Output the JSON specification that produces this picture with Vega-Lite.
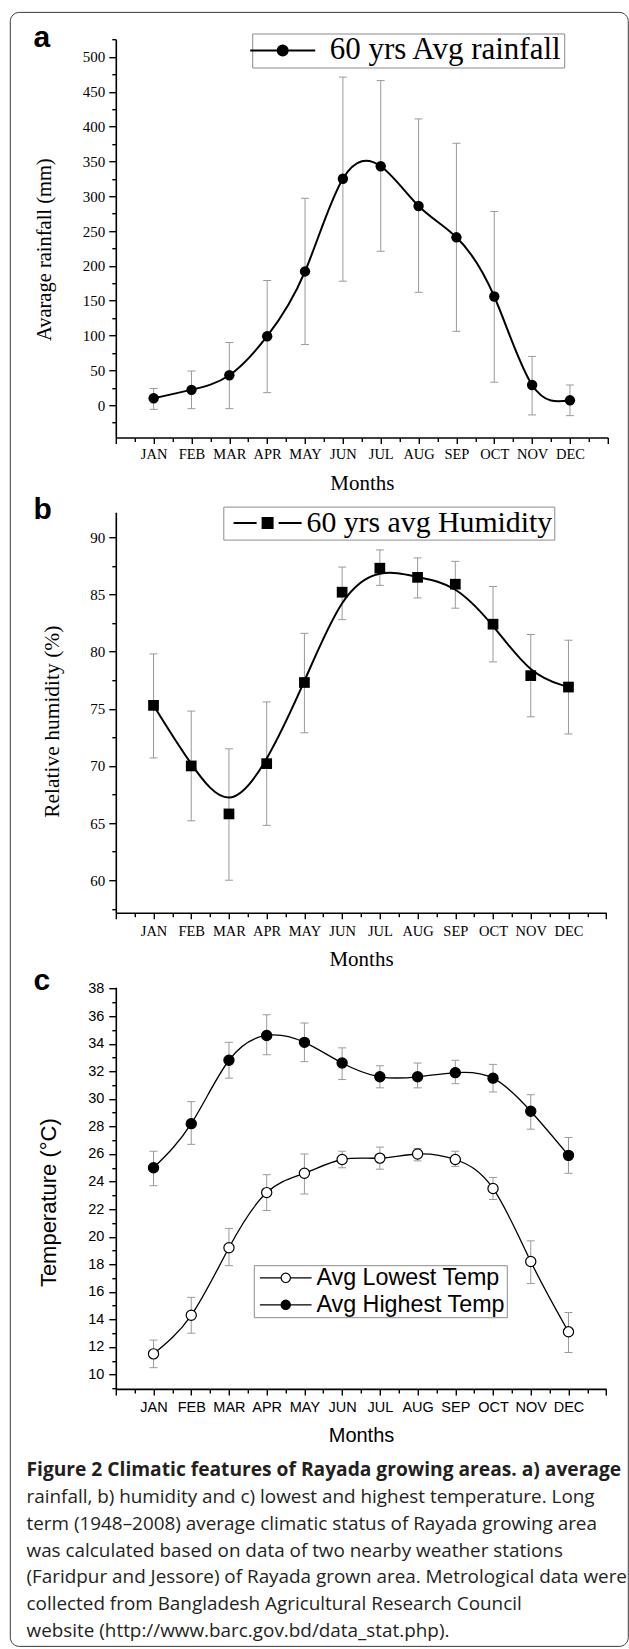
{
  "$schema": "https://vega.github.io/schema/vega-lite/v6.json",
  "background": "white",
  "padding": {"left": 8.8, "top": 11.2, "right": 0, "bottom": 0},
  "bounds": "flush",
  "spacing": 74,
  "resolve": {
    "scale": {"color": "independent", "fill": "independent", "stroke": "independent"},
    "legend": {"color": "independent", "fill": "independent", "stroke": "independent"}
  },
  "datasets": {
    "rain": [
      {"month": "JAN", "m": 1, "v": 10, "lo": -6, "hi": 24, "series": "60 yrs Avg rainfall"},
      {"month": "FEB", "m": 2, "v": 22, "lo": -5, "hi": 49, "series": "60 yrs Avg rainfall"},
      {"month": "MAR", "m": 3, "v": 43, "lo": -5, "hi": 90, "series": "60 yrs Avg rainfall"},
      {"month": "APR", "m": 4, "v": 99, "lo": 18, "hi": 179, "series": "60 yrs Avg rainfall"},
      {"month": "MAY", "m": 5, "v": 192, "lo": 87, "hi": 297, "series": "60 yrs Avg rainfall"},
      {"month": "JUN", "m": 6, "v": 325, "lo": 178, "hi": 471, "series": "60 yrs Avg rainfall"},
      {"month": "JUL", "m": 7, "v": 343, "lo": 221, "hi": 466, "series": "60 yrs Avg rainfall"},
      {"month": "AUG", "m": 8, "v": 286, "lo": 162, "hi": 411, "series": "60 yrs Avg rainfall"},
      {"month": "SEP", "m": 9, "v": 241, "lo": 106, "hi": 376, "series": "60 yrs Avg rainfall"},
      {"month": "OCT", "m": 10, "v": 156, "lo": 33, "hi": 278, "series": "60 yrs Avg rainfall"},
      {"month": "NOV", "m": 11, "v": 29, "lo": -14, "hi": 70, "series": "60 yrs Avg rainfall"},
      {"month": "DEC", "m": 12, "v": 7, "lo": -15, "hi": 29, "series": "60 yrs Avg rainfall"}
    ],
    "hum": [
      {"month": "JAN", "m": 1, "v": 75.3, "lo": 70.7, "hi": 79.8, "series": "60 yrs avg Humidity"},
      {"month": "FEB", "m": 2, "v": 70.0, "lo": 65.2, "hi": 74.8, "series": "60 yrs avg Humidity"},
      {"month": "MAR", "m": 3, "v": 65.8, "lo": 60.0, "hi": 71.5, "series": "60 yrs avg Humidity"},
      {"month": "APR", "m": 4, "v": 70.2, "lo": 64.8, "hi": 75.6, "series": "60 yrs avg Humidity"},
      {"month": "MAY", "m": 5, "v": 77.3, "lo": 72.9, "hi": 81.6, "series": "60 yrs avg Humidity"},
      {"month": "JUN", "m": 6, "v": 85.2, "lo": 82.8, "hi": 87.4, "series": "60 yrs avg Humidity"},
      {"month": "JUL", "m": 7, "v": 87.3, "lo": 85.8, "hi": 88.9, "series": "60 yrs avg Humidity"},
      {"month": "AUG", "m": 8, "v": 86.5, "lo": 84.7, "hi": 88.2, "series": "60 yrs avg Humidity"},
      {"month": "SEP", "m": 9, "v": 85.9, "lo": 83.8, "hi": 87.9, "series": "60 yrs avg Humidity"},
      {"month": "OCT", "m": 10, "v": 82.4, "lo": 79.1, "hi": 85.7, "series": "60 yrs avg Humidity"},
      {"month": "NOV", "m": 11, "v": 77.9, "lo": 74.3, "hi": 81.5, "series": "60 yrs avg Humidity"},
      {"month": "DEC", "m": 12, "v": 76.9, "lo": 72.8, "hi": 81.0, "series": "60 yrs avg Humidity"}
    ],
    "temp": [
      {"month": "JAN", "m": 1, "series": "Avg Highest Temp", "v": 25.0, "lo": 23.7, "hi": 26.2},
      {"month": "FEB", "m": 2, "series": "Avg Highest Temp", "v": 28.2, "lo": 26.7, "hi": 29.8},
      {"month": "MAR", "m": 3, "series": "Avg Highest Temp", "v": 32.8, "lo": 31.5, "hi": 34.1},
      {"month": "APR", "m": 4, "series": "Avg Highest Temp", "v": 34.6, "lo": 33.2, "hi": 36.1},
      {"month": "MAY", "m": 5, "series": "Avg Highest Temp", "v": 34.1, "lo": 32.7, "hi": 35.5},
      {"month": "JUN", "m": 6, "series": "Avg Highest Temp", "v": 32.6, "lo": 31.4, "hi": 33.7},
      {"month": "JUL", "m": 7, "series": "Avg Highest Temp", "v": 31.6, "lo": 30.8, "hi": 32.4},
      {"month": "AUG", "m": 8, "series": "Avg Highest Temp", "v": 31.6, "lo": 30.8, "hi": 32.6},
      {"month": "SEP", "m": 9, "series": "Avg Highest Temp", "v": 31.9, "lo": 31.1, "hi": 32.8},
      {"month": "OCT", "m": 10, "series": "Avg Highest Temp", "v": 31.5, "lo": 30.5, "hi": 32.5},
      {"month": "NOV", "m": 11, "series": "Avg Highest Temp", "v": 29.1, "lo": 27.8, "hi": 30.3},
      {"month": "DEC", "m": 12, "series": "Avg Highest Temp", "v": 25.9, "lo": 24.6, "hi": 27.2},
      {"month": "JAN", "m": 1, "series": "Avg Lowest Temp", "v": 11.5, "lo": 10.5, "hi": 12.5},
      {"month": "FEB", "m": 2, "series": "Avg Lowest Temp", "v": 14.3, "lo": 13.0, "hi": 15.6},
      {"month": "MAR", "m": 3, "series": "Avg Lowest Temp", "v": 19.2, "lo": 17.9, "hi": 20.6},
      {"month": "APR", "m": 4, "series": "Avg Lowest Temp", "v": 23.2, "lo": 21.9, "hi": 24.5},
      {"month": "MAY", "m": 5, "series": "Avg Lowest Temp", "v": 24.6, "lo": 23.1, "hi": 26.0},
      {"month": "JUN", "m": 6, "series": "Avg Lowest Temp", "v": 25.6, "lo": 25.0, "hi": 26.2},
      {"month": "JUL", "m": 7, "series": "Avg Lowest Temp", "v": 25.7, "lo": 24.9, "hi": 26.5},
      {"month": "AUG", "m": 8, "series": "Avg Lowest Temp", "v": 26.0, "lo": 25.5, "hi": 26.4},
      {"month": "SEP", "m": 9, "series": "Avg Lowest Temp", "v": 25.6, "lo": 25.1, "hi": 26.2},
      {"month": "OCT", "m": 10, "series": "Avg Lowest Temp", "v": 23.5, "lo": 22.7, "hi": 24.3},
      {"month": "NOV", "m": 11, "series": "Avg Lowest Temp", "v": 18.2, "lo": 16.6, "hi": 19.7},
      {"month": "DEC", "m": 12, "series": "Avg Lowest Temp", "v": 13.1, "lo": 11.6, "hi": 14.5}
    ]
  },
  "title": {
    "text": "Figure 2 Climatic features of Rayada growing areas. a) average",
    "subtitle": [
      "rainfall, b) humidity and c) lowest and highest temperature. Long",
      "term (1948–2008) average climatic status of Rayada growing area",
      "was calculated based on data of two nearby weather stations",
      "(Faridpur and Jessore) of Rayada grown area. Metrological data were",
      "collected from Bangladesh Agricultural Research Council",
      "website (http://www.barc.gov.bd/data_stat.php)."
    ],
    "orient": "bottom",
    "anchor": "start",
    "frame": "group",
    "dx": -89.3,
    "offset": -184.9,
    "baseline": "top",
    "font": "Open Sans",
    "fontSize": 19.2,
    "fontWeight": "bold",
    "color": "#231f20",
    "lineHeight": 26.7,
    "subtitleFont": "Open Sans",
    "subtitleFontSize": 18.9,
    "subtitleFontWeight": "normal",
    "subtitleColor": "#231f20",
    "subtitleLineHeight": 26.7,
    "subtitlePadding": 7.5
  },
  "vconcat": [
    {
      "width": 492,
      "height": 398.3,
      "title": {"text": "a", "orient": "top", "anchor": "start", "frame": "group", "dx": -82.3, "offset": -65.8, "baseline": "alphabetic", "font": "Liberation Sans", "fontSize": 30, "fontWeight": "bold", "color": "black"},
      "data": {"name": "rain"},
      "encoding": {
        "x": {
          "field": "m", "type": "quantitative",
          "scale": {"domain": [0, 13], "nice": false, "zero": false},
          "axis": {
            "values": [0,0.5,1,1.5,2,2.5,3,3.5,4,4.5,5,5.5,6,6.5,7,7.5,8,8.5,9,9.5,10,10.5,11,11.5,12,12.5,13],
            "labelExpr": "datum.value >= 1 && datum.value <= 12 && datum.value % 1 === 0 ? ['JAN','FEB','MAR','APR','MAY','JUN','JUL','AUG','SEP','OCT','NOV','DEC'][datum.value - 1] : ''",
            "tickSize": {"condition": {"test": "datum.value % 1 === 0", "value": 6}, "value": 4},
            "labelFont": "Liberation Serif", "labelFontSize": 14.5, "labelPadding": 4,
            "title": "Months", "titleFont": "Liberation Serif", "titleFontSize": 21, "titlePadding": 12
          }
        },
        "y": {
          "field": "v", "type": "quantitative",
          "scale": {"domain": [-46.4, 525.4], "nice": false, "zero": false},
          "title": "Avarage rainfall (mm)",
          "axis": {
            "values": [-25,0,25,50,75,100,125,150,175,200,225,250,275,300,325,350,375,400,425,450,475,500,525],
            "labelExpr": "datum.value % 50 === 0 ? datum.label : ''",
            "tickSize": {"condition": {"test": "datum.value % 50 === 0", "value": 7}, "value": 4},
            "labelFont": "Liberation Serif", "labelFontSize": 15, "labelPadding": 4,
            "titleFont": "Liberation Serif", "titleFontSize": 20.5, "titlePadding": 28, "titleY": 210
          }
        }
      },
      "layer": [
        {
          "mark": {"type": "rule", "color": "#9a9a9a", "strokeWidth": 1},
          "encoding": {
            "y": {"field": "lo", "type": "quantitative", "scale": {"domain": [-46.4, 525.4], "nice": false, "zero": false}, "title": "Avarage rainfall (mm)"},
            "y2": {"field": "hi"}
          }
        },
        {
          "mark": {"type": "tick", "orient": "horizontal", "size": 8, "thickness": 1, "color": "#9a9a9a", "opacity": 1},
          "encoding": {"y": {"field": "lo", "type": "quantitative", "scale": {"domain": [-46.4, 525.4], "nice": false, "zero": false}, "title": "Avarage rainfall (mm)"}}
        },
        {
          "mark": {"type": "tick", "orient": "horizontal", "size": 8, "thickness": 1, "color": "#9a9a9a", "opacity": 1},
          "encoding": {"y": {"field": "hi", "type": "quantitative", "scale": {"domain": [-46.4, 525.4], "nice": false, "zero": false}, "title": "Avarage rainfall (mm)"}}
        },
        {
          "mark": {"type": "line", "interpolate": "natural", "color": "black", "strokeWidth": 2}
        },
        {
          "mark": {"type": "point", "filled": true, "size": 108, "opacity": 1},
          "encoding": {
            "color": {
              "field": "series", "type": "nominal",
              "scale": {"range": ["black"]},
              "legend": {
                "orient": "none", "legendX": 136.4, "legendY": -5.7, "direction": "vertical", "title": null,
                "symbolType": "M-6.5,0H6.5M1,0A1,1,0,1,1,-1,0A1,1,0,1,1,1,0Z",
                "symbolSize": 100, "symbolStrokeColor": "black", "symbolFillColor": "black", "symbolStrokeWidth": 2,
                "symbolOffset": 13.5, "labelOffset": 31.5, "padding": 1.5,
                "labelFont": "Liberation Serif", "labelFontSize": 31, "labelColor": "black", "labelLimit": 500,
                "strokeColor": "#8c8c8c", "fillColor": "white"
              }
            }
          }
        },
        {
          "mark": {"type": "point", "opacity": 0, "size": 1},
          "encoding": {
            "stroke": {
              "field": "m", "type": "quantitative",
              "scale": {"range": ["rgba(0,0,0,0)", "rgba(0,0,0,0)"]},
              "legend": {
                "orient": "none", "legendX": -106, "legendY": -27.3, "direction": "vertical", "title": null,
                "gradientLength": 1633.3, "gradientThickness": 617.5, "gradientStrokeWidth": 0,
                "labelExpr": "''", "labelFontSize": 1, "labelOffset": 0, "padding": 0,
                "strokeColor": "#3a3a3a", "cornerRadius": 9
              }
            }
          }
        }
      ]
    },
    {
      "width": 490.4,
      "height": 400.6,
      "title": {"text": "b", "orient": "top", "anchor": "start", "frame": "group", "dx": -82.3, "offset": -43.2, "baseline": "alphabetic", "font": "Liberation Sans", "fontSize": 30, "fontWeight": "bold", "color": "black"},
      "data": {"name": "hum"},
      "encoding": {
        "x": {
          "field": "m", "type": "quantitative",
          "scale": {"domain": [0, 13], "nice": false, "zero": false},
          "axis": {
            "values": [0,0.5,1,1.5,2,2.5,3,3.5,4,4.5,5,5.5,6,6.5,7,7.5,8,8.5,9,9.5,10,10.5,11,11.5,12,12.5,13],
            "labelExpr": "datum.value >= 1 && datum.value <= 12 && datum.value % 1 === 0 ? ['JAN','FEB','MAR','APR','MAY','JUN','JUL','AUG','SEP','OCT','NOV','DEC'][datum.value - 1] : ''",
            "tickSize": {"condition": {"test": "datum.value % 1 === 0", "value": 6}, "value": 4},
            "labelFont": "Liberation Serif", "labelFontSize": 14.5, "labelPadding": 6,
            "title": "Months", "titleFont": "Liberation Serif", "titleFontSize": 21, "titlePadding": 10
          }
        },
        "y": {
          "field": "v", "type": "quantitative",
          "scale": {"domain": [57.15, 92.2], "nice": false, "zero": false},
          "title": "Relative humidity (%)",
          "axis": {
            "values": [57.5,60,62.5,65,67.5,70,72.5,75,77.5,80,82.5,85,87.5,90,92.5],
            "labelExpr": "datum.value % 5 === 0 ? datum.label : ''",
            "tickSize": {"condition": {"test": "datum.value % 5 === 0", "value": 7}, "value": 4},
            "labelFont": "Liberation Serif", "labelFontSize": 15, "labelPadding": 4,
            "titleFont": "Liberation Serif", "titleFontSize": 21.5, "titlePadding": 26, "titleY": 209
          }
        }
      },
      "layer": [
        {
          "mark": {"type": "rule", "color": "#9a9a9a", "strokeWidth": 1},
          "encoding": {
            "y": {"field": "lo", "type": "quantitative", "scale": {"domain": [57.15, 92.2], "nice": false, "zero": false}, "title": "Relative humidity (%)"},
            "y2": {"field": "hi"}
          }
        },
        {
          "mark": {"type": "tick", "orient": "horizontal", "size": 8, "thickness": 1, "color": "#9a9a9a", "opacity": 1},
          "encoding": {"y": {"field": "lo", "type": "quantitative", "scale": {"domain": [57.15, 92.2], "nice": false, "zero": false}, "title": "Relative humidity (%)"}}
        },
        {
          "mark": {"type": "tick", "orient": "horizontal", "size": 8, "thickness": 1, "color": "#9a9a9a", "opacity": 1},
          "encoding": {"y": {"field": "hi", "type": "quantitative", "scale": {"domain": [57.15, 92.2], "nice": false, "zero": false}, "title": "Relative humidity (%)"}}
        },
        {
          "mark": {"type": "line", "interpolate": "basis", "color": "black", "strokeWidth": 2}
        },
        {
          "mark": {"type": "point", "shape": "square", "filled": true, "size": 115, "opacity": 1},
          "encoding": {
            "color": {
              "field": "series", "type": "nominal",
              "scale": {"range": ["black"]},
              "legend": {
                "orient": "none", "legendX": 107.5, "legendY": -5.6, "direction": "vertical", "title": null,
                "symbolType": "M-6.8,0H-2.2M2.2,0H6.8M-1,-1H1V1H-1Z",
                "symbolSize": 100, "symbolStrokeColor": "black", "symbolFillColor": "black", "symbolStrokeWidth": 2,
                "symbolOffset": 27.9, "labelOffset": 24, "padding": 1.5,
                "labelFont": "Liberation Serif", "labelFontSize": 29.8, "labelColor": "black", "labelLimit": 500,
                "strokeColor": "#8c8c8c", "fillColor": "white"
              }
            }
          }
        }
      ]
    },
    {
      "width": 490.4,
      "height": 401.7,
      "title": {"text": "c", "orient": "top", "anchor": "start", "frame": "group", "dx": -82.3, "offset": -39.7, "baseline": "alphabetic", "font": "Liberation Sans", "fontSize": 30, "fontWeight": "bold", "color": "black"},
      "data": {"name": "temp"},
      "encoding": {
        "x": {
          "field": "m", "type": "quantitative",
          "scale": {"domain": [0, 13], "nice": false, "zero": false},
          "axis": {
            "values": [0,0.5,1,1.5,2,2.5,3,3.5,4,4.5,5,5.5,6,6.5,7,7.5,8,8.5,9,9.5,10,10.5,11,11.5,12,12.5,13],
            "labelExpr": "datum.value >= 1 && datum.value <= 12 && datum.value % 1 === 0 ? ['JAN','FEB','MAR','APR','MAY','JUN','JUL','AUG','SEP','OCT','NOV','DEC'][datum.value - 1] : ''",
            "tickSize": {"condition": {"test": "datum.value % 1 === 0", "value": 6}, "value": 4},
            "labelFont": "Liberation Sans", "labelFontSize": 14.5, "labelPadding": 6,
            "title": "Months", "titleFont": "Liberation Sans", "titleFontSize": 20, "titlePadding": 11
          }
        },
        "y": {
          "field": "v", "type": "quantitative",
          "scale": {"domain": [8.96, 38.1], "nice": false, "zero": false},
          "title": "Temperature (°C)",
          "axis": {
            "values": [9,10,11,12,13,14,15,16,17,18,19,20,21,22,23,24,25,26,27,28,29,30,31,32,33,34,35,36,37,38],
            "labelExpr": "datum.value % 2 === 0 ? datum.label : ''",
            "tickSize": {"condition": {"test": "datum.value % 2 === 0", "value": 7}, "value": 4},
            "labelFont": "Liberation Sans", "labelFontSize": 14.5, "labelPadding": 5,
            "titleFont": "Liberation Sans", "titleFontSize": 22, "titlePadding": 27, "titleY": 215
          }
        },
        "detail": {"field": "series"}
      },
      "layer": [
        {
          "mark": {"type": "rule", "color": "#9a9a9a", "strokeWidth": 1},
          "encoding": {
            "y": {"field": "lo", "type": "quantitative", "scale": {"domain": [8.96, 38.1], "nice": false, "zero": false}, "title": "Temperature (°C)"},
            "y2": {"field": "hi"}
          }
        },
        {
          "mark": {"type": "tick", "orient": "horizontal", "size": 8, "thickness": 1, "color": "#9a9a9a", "opacity": 1},
          "encoding": {"y": {"field": "lo", "type": "quantitative", "scale": {"domain": [8.96, 38.1], "nice": false, "zero": false}, "title": "Temperature (°C)"}}
        },
        {
          "mark": {"type": "tick", "orient": "horizontal", "size": 8, "thickness": 1, "color": "#9a9a9a", "opacity": 1},
          "encoding": {"y": {"field": "hi", "type": "quantitative", "scale": {"domain": [8.96, 38.1], "nice": false, "zero": false}, "title": "Temperature (°C)"}}
        },
        {
          "mark": {"type": "line", "interpolate": "natural", "color": "black", "strokeWidth": 1.3}
        },
        {
          "mark": {"type": "point", "filled": true, "size": 104, "stroke": "black", "strokeWidth": 1.2, "opacity": 1},
          "encoding": {
            "fill": {
              "field": "series", "type": "nominal",
              "scale": {"domain": ["Avg Lowest Temp", "Avg Highest Temp"], "range": ["white", "black"]},
              "legend": {
                "orient": "none", "legendX": 138, "legendY": 278, "direction": "vertical", "title": null,
                "symbolType": "M-5.56,0H-1M1,0H5.56M1,0A1,1,0,1,1,-1,0A1,1,0,1,1,1,0Z",
                "symbolSize": 86.5, "symbolStrokeColor": "black", "symbolStrokeWidth": 1.2,
                "symbolOffset": 19.3, "labelOffset": 19, "padding": 1, "rowPadding": 3,
                "labelFont": "Liberation Sans", "labelFontSize": 23.3, "labelColor": "black", "labelLimit": 500,
                "strokeColor": "#8c8c8c", "fillColor": "white"
              }
            }
          }
        }
      ]
    }
  ],
  "config": {
    "view": {"stroke": null},
    "axis": {
      "grid": false,
      "domainColor": "black",
      "domainWidth": 1.6,
      "tickColor": "black",
      "tickWidth": 1.4,
      "labelColor": "black",
      "titleColor": "black",
      "titleFontWeight": "normal",
      "labelOverlap": false,
      "labelFlush": false,
      "labelBound": false
    }
  }
}
